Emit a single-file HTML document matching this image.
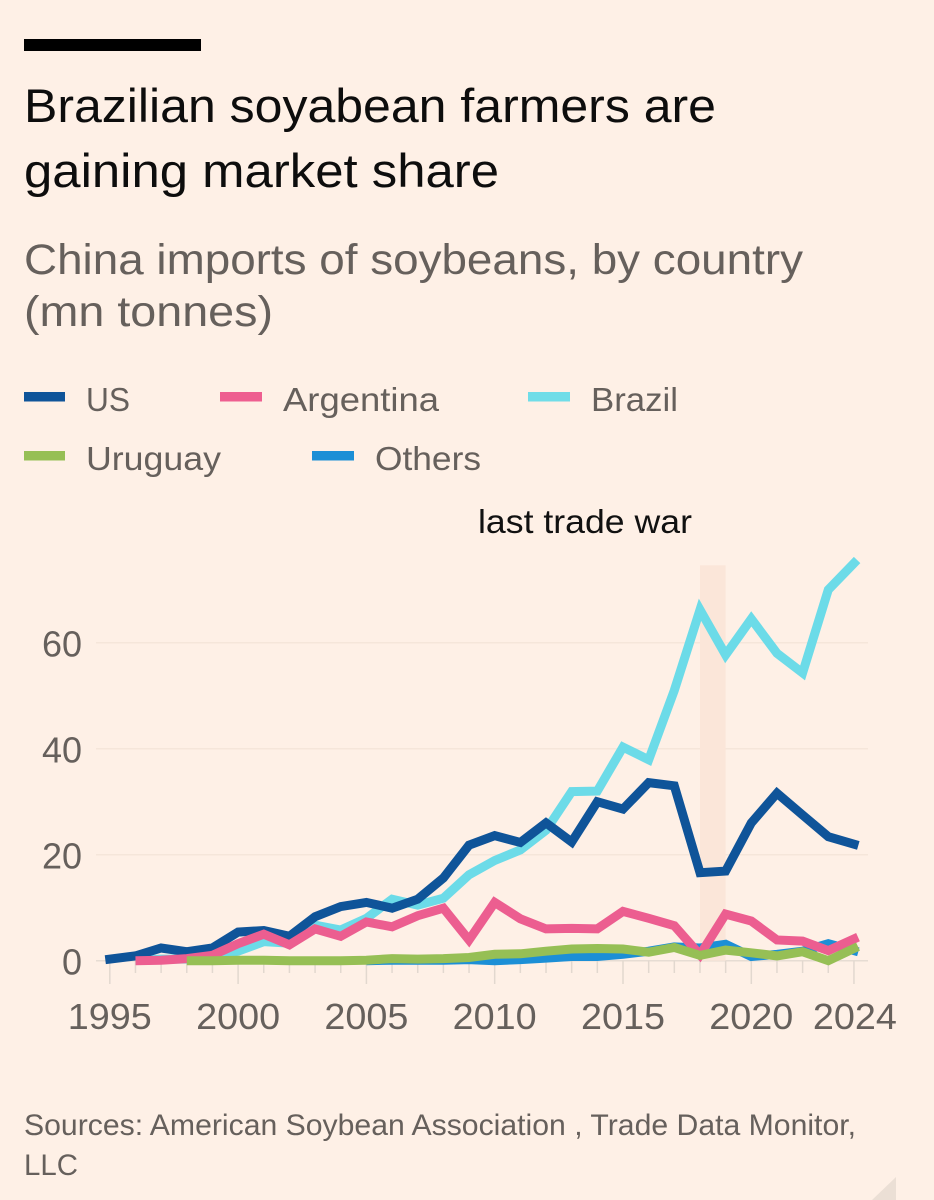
<!DOCTYPE html>
<html lang="en">
<head>
<meta charset="utf-8">
<title>Brazilian soyabean farmers are gaining market share</title>
<style>
html,body{margin:0;padding:0;background:#fef0e6;}
svg{display:block;font-family:"Liberation Sans",sans-serif;}
</style>
</head>
<body>
<svg id="chart" width="934" height="1200" viewBox="0 0 934 1200" xmlns="http://www.w3.org/2000/svg">
  <rect x="0" y="0" width="934" height="1200" fill="#fef0e6"/>
  <rect x="24" y="39" width="177" height="12" fill="#000"/>
  <text x="24" y="122" font-size="47" fill="#0d0d0d" textLength="692" lengthAdjust="spacingAndGlyphs">Brazilian soyabean farmers are</text>
  <text x="24" y="187" font-size="47" fill="#0d0d0d" textLength="475" lengthAdjust="spacingAndGlyphs">gaining market share</text>
  <text x="24" y="274" font-size="43" fill="#66605c" textLength="779" lengthAdjust="spacingAndGlyphs">China imports of soybeans, by country</text>
  <text x="24" y="326" font-size="43" fill="#66605c" textLength="249" lengthAdjust="spacingAndGlyphs">(mn tonnes)</text>

  <g>
    <rect x="24" y="392" width="41" height="9.5" fill="#0f5499"/>
    <text x="86" y="411" font-size="33" fill="#66605c" textLength="44" lengthAdjust="spacingAndGlyphs">US</text>
    <rect x="220" y="392" width="42" height="9.5" fill="#ee5e90"/>
    <text x="283" y="411" font-size="33" fill="#66605c" textLength="156" lengthAdjust="spacingAndGlyphs">Argentina</text>
    <rect x="528" y="392" width="42" height="9.5" fill="#70dde8"/>
    <text x="591" y="411" font-size="33" fill="#66605c" textLength="87" lengthAdjust="spacingAndGlyphs">Brazil</text>
    <rect x="24" y="451" width="41" height="9.5" fill="#96bf55"/>
    <text x="86" y="470" font-size="33" fill="#66605c" textLength="135" lengthAdjust="spacingAndGlyphs">Uruguay</text>
    <rect x="312" y="451" width="42" height="9.5" fill="#1c8fd6"/>
    <text x="375" y="470" font-size="33" fill="#66605c" textLength="106" lengthAdjust="spacingAndGlyphs">Others</text>
  </g>

  <text x="478" y="533" font-size="33" fill="#111" textLength="214" lengthAdjust="spacingAndGlyphs">last trade war</text>

  <g id="grid"></g>
  <g id="band"></g>
  <g id="ticks"></g>
  <g id="series"></g>
  <g id="ylabels"></g>
  <g id="xlabels"></g>

  <text x="24" y="1135" font-size="29.5" fill="#66605c" textLength="832" lengthAdjust="spacingAndGlyphs">Sources: American Soybean Association , Trade Data Monitor,</text>
  <text x="24" y="1175" font-size="29.5" fill="#66605c" textLength="54" lengthAdjust="spacingAndGlyphs">LLC</text>
  <polygon points="896,1177 896,1200 872,1200" fill="#ebdfd5"/>
</svg>
<script>
const years = [1995,1996,1997,1998,1999,2000,2001,2002,2003,2004,2005,2006,2007,2008,2009,2010,2011,2012,2013,2014,2015,2016,2017,2018,2019,2020,2021,2022,2023,2024];
const brazil = [null,0.1,0.3,0.3,0.8,1.8,3.6,3.3,6.7,5.8,8.0,11.6,10.5,11.8,16.2,18.9,20.9,24.6,31.9,32.0,40.3,37.9,51.0,66.2,57.7,64.5,58.0,54.3,70.0,75.0];
const others = [null,null,null,null,null,null,null,null,null,null,0,0.1,0.1,0.1,0.2,0,0.2,0.5,0.8,0.8,1.2,1.8,2.6,2.4,3.1,0.8,1.2,1.8,3.2,1.9];
const us = [0.3,0.9,2.4,1.7,2.4,5.4,5.7,4.6,8.3,10.2,11.0,9.9,11.6,15.6,21.8,23.6,22.3,26.0,22.4,30.0,28.6,33.6,33.0,16.6,16.9,26.0,31.6,27.5,23.4,22.0];
const argentina = [null,0,0.1,0.4,1.0,3.2,5.0,3.0,6.0,4.6,7.3,6.4,8.5,9.9,3.9,11.0,7.9,6.0,6.1,6.0,9.3,8.0,6.6,1.1,8.8,7.5,3.9,3.7,1.9,4.1];
const uruguay = [null,null,null,0,0,0.1,0.1,0,0,0,0.1,0.4,0.3,0.4,0.6,1.2,1.3,1.8,2.2,2.3,2.2,1.6,2.5,1.0,2.0,1.5,0.9,1.7,0,2.3];
const yTicks = [0,20,40,60];
const xTicks = [1995,2000,2005,2010,2015,2020,2024];
const bandYears = [2018,2019];
const bandTop = 74.6;

const NS = 'http://www.w3.org/2000/svg';
function xScale(year){ return 109.8 + (year - 1995) * 25.66; }
function yScale(value){ return 960.7 - value * 5.3; }
function make(tag, parentId, attrs, text){
  const el = document.createElementNS(NS, tag);
  for (const k in attrs) el.setAttribute(k, attrs[k]);
  if (text !== undefined) el.textContent = text;
  document.getElementById(parentId).appendChild(el);
  return el;
}

yTicks.forEach(function(v){
  const grid = make('line', 'grid', {x1:96, x2:868, y1:yScale(v), y2:yScale(v), stroke: v === 0 ? '#e6dcd3' : '#f5e6da', 'stroke-width':1.5});
  
  
  const label = make('text', 'ylabels', {x:82, y:yScale(v) + 14, 'text-anchor':'end', 'font-size':36, fill:'#66605c'}, String(v));
  
  
});

const band = make('rect', 'band', {x:xScale(bandYears[0]), y:yScale(bandTop), width:xScale(bandYears[1]) - xScale(bandYears[0]), height:yScale(0) - yScale(bandTop), fill:'#fbe6d9'});



years.forEach(function(y){
  const major = xTicks.indexOf(y) >= 0;
  const tick = make('line', 'ticks', {x1:xScale(y), x2:xScale(y), y1:yScale(0), y2: major ? 984 : 973, stroke:'#e2d8cf', 'stroke-width':1.5});
  
  
});

/* Extend a line end by a few px along its last segment: the reference overshoots at 1995 and 2024 only. */
function extend(from, to, px){
  const dx = to[0] - from[0];
  const dy = to[1] - from[1];
  const len = Math.hypot(dx, dy) || 1;
  return [to[0] + dx / len * px, to[1] + dy / len * px];
}
function drawSeries(values, color, name){
  const pts = [];
  values.forEach(function(v, i){
    if (v !== null) pts.push([xScale(years[i]), yScale(v)]);
  });
  if (values[0] !== null) pts[0] = extend(pts[1], pts[0], 4.5);
  pts[pts.length - 1] = extend(pts[pts.length - 2], pts[pts.length - 1], 4.5);
  const points = pts.map(function(p){ return p[0].toFixed(1) + ',' + p[1].toFixed(1); }).join(' ');
  const line = make('polyline', 'series', {points:points, fill:'none', stroke:color, 'stroke-width':9, 'stroke-linejoin':'miter', 'stroke-miterlimit':4, 'stroke-linecap':'butt'});
  
  
}
drawSeries(others, '#1c8fd6', 'line-others');
drawSeries(brazil, '#6cdbe8', 'line-brazil');
drawSeries(us, '#0f5499', 'line-us');
drawSeries(argentina, '#ec5e90', 'line-argentina');
drawSeries(uruguay, '#96bf55', 'line-uruguay');

xTicks.forEach(function(y){
  const label = make('text', 'xlabels', {x:xScale(y) + (y === 2024 ? 1 : 0), y:1029, 'text-anchor':'middle', 'font-size':36, fill:'#66605c', textLength:84, lengthAdjust:'spacingAndGlyphs'}, String(y));
  
  
});
</script>
</body>
</html>
